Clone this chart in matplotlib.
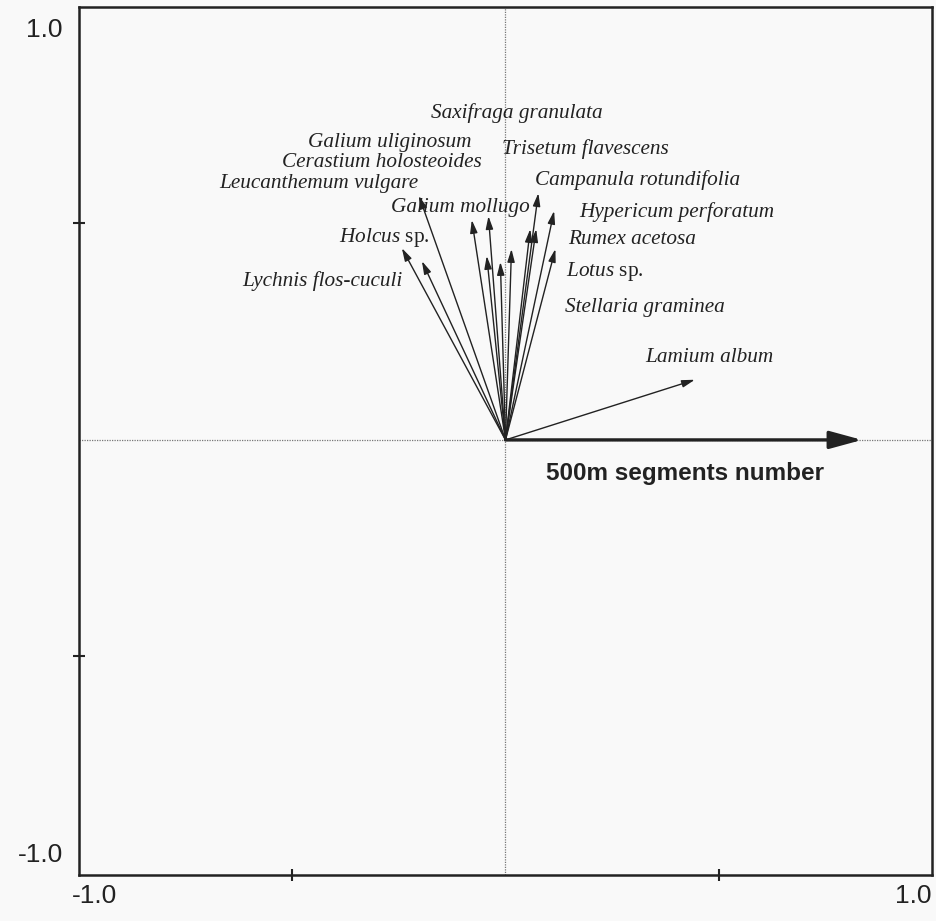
import matplotlib
matplotlib.use("Agg")
import matplotlib.pyplot as plt

# ---- data (arrow tip coordinates in ordination space) ----
species = ["Leucanthemum vulgare", "Holcus sp.", "Lychnis flos-cuculi",
           "Galium uliginosum", "Cerastium holosteoides", "Galium mollugo",
           "Saxifraga granulata", "Trisetum flavescens", "Campanula rotundifolia",
           "Hypericum perforatum", "Rumex acetosa", "Lotus sp.",
           "Stellaria graminea", "Lamium album"]
axis1 = [-0.203, -0.243, -0.196, -0.079, -0.040, -0.044, -0.012, 0.014,
         0.077, 0.114, 0.058, 0.072, 0.117, 0.444]
axis2 = [0.564, 0.443, 0.413, 0.508, 0.517, 0.425, 0.411, 0.441,
         0.570, 0.529, 0.487, 0.487, 0.441, 0.139]

env_name = "500m segments number"
env_x = [0.836]
env_y = [0.0]

# ---- layout: label anchor positions (left edge, vertical centre) ----
label_pos = {
    "Saxifraga granulata": (-0.175, 0.755),
    "Galium uliginosum": (-0.462, 0.686),
    "Cerastium holosteoides": (-0.523, 0.641),
    "Leucanthemum vulgare": (-0.670, 0.592),
    "Galium mollugo": (-0.269, 0.537),
    "Holcus sp.": (-0.390, 0.468),
    "Lychnis flos-cuculi": (-0.617, 0.368),
    "Trisetum flavescens": (-0.009, 0.673),
    "Campanula rotundifolia": (0.068, 0.600),
    "Hypericum perforatum": (0.173, 0.526),
    "Rumex acetosa": (0.147, 0.462),
    "Lotus sp.": (0.143, 0.390),
    "Stellaria graminea": (0.140, 0.307),
    "Lamium album": (0.327, 0.191),
}

plt.rcParams["mathtext.fontset"] = "custom"
plt.rcParams["mathtext.it"] = "Liberation Serif:italic"
plt.rcParams["mathtext.rm"] = "Liberation Serif"

fig = plt.figure(figsize=(9.37, 9.21), dpi=100)
fig.patch.set_facecolor("#f9f9f9")
ax = fig.add_axes([79 / 937, 1 - 875 / 921, (932 - 79) / 937, (875 - 7) / 921])
ax.set_facecolor("#f9f9f9")
ax.set_xlim(-1.0, 1.0)
ax.set_ylim(-1.005, 1.0)

for s in ax.spines.values():
    s.set_linewidth(1.8)
    s.set_color("#222222")

ax.set_xticks([-0.5, 0.5])
ax.set_yticks([-0.5, 0.5])
ax.set_xticklabels([])
ax.set_yticklabels([])
ax.tick_params(direction="inout", length=9, width=1.5, color="#222222")

# dotted cross lines
ax.axhline(0, color="#777777", lw=0.9, ls=(0, (1, 1)), zorder=1)
ax.axvline(0, color="#777777", lw=0.9, ls=(0, (1, 1)), zorder=1)

FS = 15.3
# species arrows
for name, x, y in zip(species, axis1, axis2):
    ax.annotate("", xy=(x, y), xytext=(0, 0),
                arrowprops=dict(arrowstyle="-|>,head_length=0.7,head_width=0.2",
                                lw=1.0, color="#222222",
                                shrinkA=0, shrinkB=0, mutation_scale=11),
                zorder=3)
    lx, ly = label_pos[name]
    if name.endswith(" sp."):
        genus = name.split(" ")[0]
        txt = r"$\mathit{" + genus + r"}$ sp."
        ax.text(lx, ly, txt, fontsize=FS, family="Liberation Serif",
                va="center", ha="left", color="#222222")
    else:
        ax.text(lx, ly, name, fontsize=FS, family="Liberation Serif",
                style="italic", va="center", ha="left", color="#222222")

# environmental variable arrow
for x, y in zip(env_x, env_y):
    ax.annotate("", xy=(x, y), xytext=(0, 0),
                arrowprops=dict(arrowstyle="-|>,head_length=1.1,head_width=0.3",
                                lw=2.4, color="#222222",
                                shrinkA=0, shrinkB=0, mutation_scale=18),
                zorder=3)
ax.text(0.096, -0.077, env_name, fontsize=17.5, family="Liberation Sans",
        weight="bold", va="center", ha="left", color="#222222")

# axis end labels placed inside like the original
lab = dict(fontsize=19, family="Liberation Sans", color="#222222")
fig.text(63 / 937, 1 - 30 / 921, "1.0", ha="right", va="center", **lab)
fig.text(63 / 937, 1 - 855 / 921, "-1.0", ha="right", va="center", **lab)
fig.text(72 / 937, 1 - 896 / 921, "-1.0", ha="left", va="center", **lab)
fig.text(932 / 937, 1 - 896 / 921, "1.0", ha="right", va="center", **lab)

fig.savefig("out.png", dpi=100, facecolor=fig.get_facecolor())
